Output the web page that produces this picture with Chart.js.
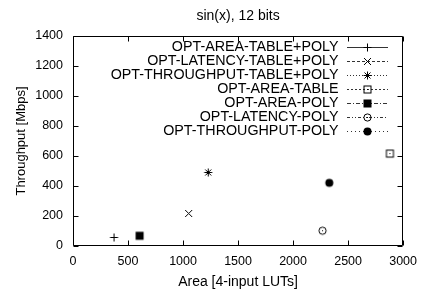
<!DOCTYPE html>
<html>
<head>
<meta charset="utf-8">
<script src="https://cdn.jsdelivr.net/npm/chart.js@4.4.1/dist/chart.umd.min.js"></script>
<style>
  html, body { margin: 0; padding: 0; background: #ffffff; }
  #wrap { width: 425px; height: 291px; position: relative; }
</style>
</head>
<body>
<div id="wrap"><canvas id="c" width="425" height="291"></canvas></div>
<script>
// ---- data ----
const chartTitle = "sin(x), 12 bits";
const xAxisTitle = "Area [4-input LUTs]";
const yAxisTitle = "Throughput [Mbps]";
const seriesLabels = [
  "OPT-AREA-TABLE+POLY",
  "OPT-LATENCY-TABLE+POLY",
  "OPT-THROUGHPUT-TABLE+POLY",
  "OPT-AREA-TABLE",
  "OPT-AREA-POLY",
  "OPT-LATENCY-POLY",
  "OPT-THROUGHPUT-POLY"
];
const areaValues = [373, 1051, 1229, 2880, 605, 2268, 2329];
const throughputValues = [57, 217, 490, 616, 68, 102, 421];
const xTicks = [0, 500, 1000, 1500, 2000, 2500, 3000];
const yTicks = [0, 200, 400, 600, 800, 1000, 1200, 1400];

// ---- styles ----
const markerKinds = ["plus", "cross", "star", "boxDot", "boxFill", "circleDot", "circleFill"];
const legendDashes = [[], [3, 2], [1, 2], [2, 2], [4, 2, 1, 2], [3, 2, 1, 2, 1, 2], [1, 3]];
const FONT = "'Liberation Sans', Arial, Helvetica, sans-serif";

function makeMarker(kind) {
  const s = 13;
  const cv = document.createElement('canvas');
  cv.width = s; cv.height = s;
  const g = cv.getContext('2d');
  g.strokeStyle = '#000'; g.fillStyle = '#000'; g.lineWidth = 1;
  const c = 6.5;
  const r = 4;
  g.beginPath();
  if (kind === 'plus') {
    g.moveTo(c - r, c); g.lineTo(c + r, c);
    g.moveTo(c, c - r); g.lineTo(c, c + r);
    g.stroke();
  } else if (kind === 'cross') {
    g.moveTo(c - r + 0.5, c - r + 0.5); g.lineTo(c + r - 0.5, c + r - 0.5);
    g.moveTo(c - r + 0.5, c + r - 0.5); g.lineTo(c + r - 0.5, c - r + 0.5);
    g.stroke();
  } else if (kind === 'star') {
    g.moveTo(c - r, c); g.lineTo(c + r, c);
    g.moveTo(c, c - r); g.lineTo(c, c + r);
    g.moveTo(c - r + 1, c - r + 1); g.lineTo(c + r - 1, c + r - 1);
    g.moveTo(c - r + 1, c + r - 1); g.lineTo(c + r - 1, c - r + 1);
    g.stroke();
  } else if (kind === 'boxDot') {
    g.strokeRect(c - 3.5, c - 3.5, 7, 7);
    g.fillRect(6, 6, 1, 1);
  } else if (kind === 'boxFill') {
    g.fillRect(c - 4, c - 4, 8, 8);
  } else if (kind === 'circleDot') {
    g.arc(c, c, 3.6, 0, Math.PI * 2); g.stroke();
    g.fillRect(6, 6, 1, 1);
  } else if (kind === 'circleFill') {
    g.arc(c, c, 4, 0, Math.PI * 2); g.fill();
  }
  return cv;
}
const markers = markerKinds.map(makeMarker);

const datasets = seriesLabels.map((lab, i) => ({
  label: lab,
  data: [{ x: areaValues[i], y: throughputValues[i] }],
  pointStyle: markers[i],
  pointRadius: 5,
  borderColor: '#000',
  backgroundColor: '#000',
  showLine: false
}));

const frameAndDeco = {
  id: 'frameAndDeco',
  afterDraw(chart) {
    const ctx = chart.ctx;
    const a = chart.chartArea;
    const xs = chart.scales.x, ys = chart.scales.y;
    ctx.save();
    ctx.strokeStyle = '#000';
    ctx.lineWidth = 1;
    const L = Math.round(a.left) + 0.5, R = Math.round(a.right) - 0.5;
    const T = Math.round(a.top) + 0.5, B = Math.round(a.bottom) - 0.5;
    ctx.beginPath();
    ctx.rect(L, T, R - L, B - T);
    // inward ticks on all four sides
    const tl = 5;
    xTicks.forEach(v => {
      const px = Math.round(xs.getPixelForValue(v)) + 0.5;
      ctx.moveTo(px, B); ctx.lineTo(px, B - tl);
      ctx.moveTo(px, T); ctx.lineTo(px, T + tl);
    });
    yTicks.forEach(v => {
      const py = Math.round(ys.getPixelForValue(v)) + 0.5;
      ctx.moveTo(L, py); ctx.lineTo(L + tl, py);
      ctx.moveTo(R, py); ctx.lineTo(R - tl, py);
    });
    ctx.stroke();

    // title
    ctx.fillStyle = '#000';
    ctx.font = '14px ' + FONT;
    ctx.textAlign = 'center';
    ctx.textBaseline = 'middle';
    ctx.fillText(chartTitle, (a.left + a.right) / 2, 16);
    // x axis title
    ctx.fillText(xAxisTitle, (a.left + a.right) / 2, 282);
    // y axis title
    ctx.save();
    ctx.translate(21.5, (a.top + a.bottom) / 2);
    ctx.rotate(-Math.PI / 2);
    ctx.font = '13px ' + FONT;
    ctx.fillText(yAxisTitle, 0, 0);
    ctx.restore();

    // legend (gnuplot style: right-aligned text, sample line + marker)
    ctx.font = '14.3px ' + FONT;
    ctx.textAlign = 'right';
    ctx.textBaseline = 'middle';
    const ds = chart.data.datasets;
    ds.forEach((d, i) => {
      const y = 47.3 + i * 14;
      ctx.fillStyle = '#000';
      ctx.fillText(d.label, 338.5, y);
      const ly = Math.round(y) + 0.5;
      ctx.strokeStyle = '#333';
      ctx.setLineDash(legendDashes[i]);
      ctx.beginPath();
      ctx.moveTo(347, ly); ctx.lineTo(388, ly);
      ctx.stroke();
      ctx.setLineDash([]);
      const m = d.pointStyle;
      ctx.drawImage(m, 367.5 - m.width / 2, Math.round(y) + 0.5 - m.height / 2);
    });
    ctx.restore();
  }
};

new Chart(document.getElementById('c'), {
  type: 'scatter',
  data: { datasets },
  options: {
    responsive: false,
    animation: false,
    devicePixelRatio: 1,
    layout: { padding: { top: 36, right: 20, left: 0, bottom: 0 } },
    plugins: { legend: { display: false }, title: { display: false }, tooltip: { enabled: false } },
    scales: {
      x: {
        type: 'linear', min: 0, max: 3000,
        afterFit(s) { s.height = 45; },
        afterBuildTicks(s) { s.ticks = xTicks.map(v => ({ value: v })); },
        grid: { display: false, drawTicks: false },
        border: { display: false },
        ticks: { color: '#000', padding: 8, font: { family: FONT, size: 12.5 }, maxRotation: 0, autoSkip: false, callback: v => String(v) }
      },
      y: {
        type: 'linear', min: 0, max: 1400,
        afterFit(s) { s.width = 73; },
        afterBuildTicks(s) { s.ticks = yTicks.map(v => ({ value: v })); },
        grid: { display: false, drawTicks: false },
        border: { display: false },
        ticks: { color: '#000', padding: 10, font: { family: FONT, size: 12.5 }, autoSkip: false, callback: v => String(v) }
      }
    }
  },
  plugins: [frameAndDeco]
});
</script>
</body>
</html>
